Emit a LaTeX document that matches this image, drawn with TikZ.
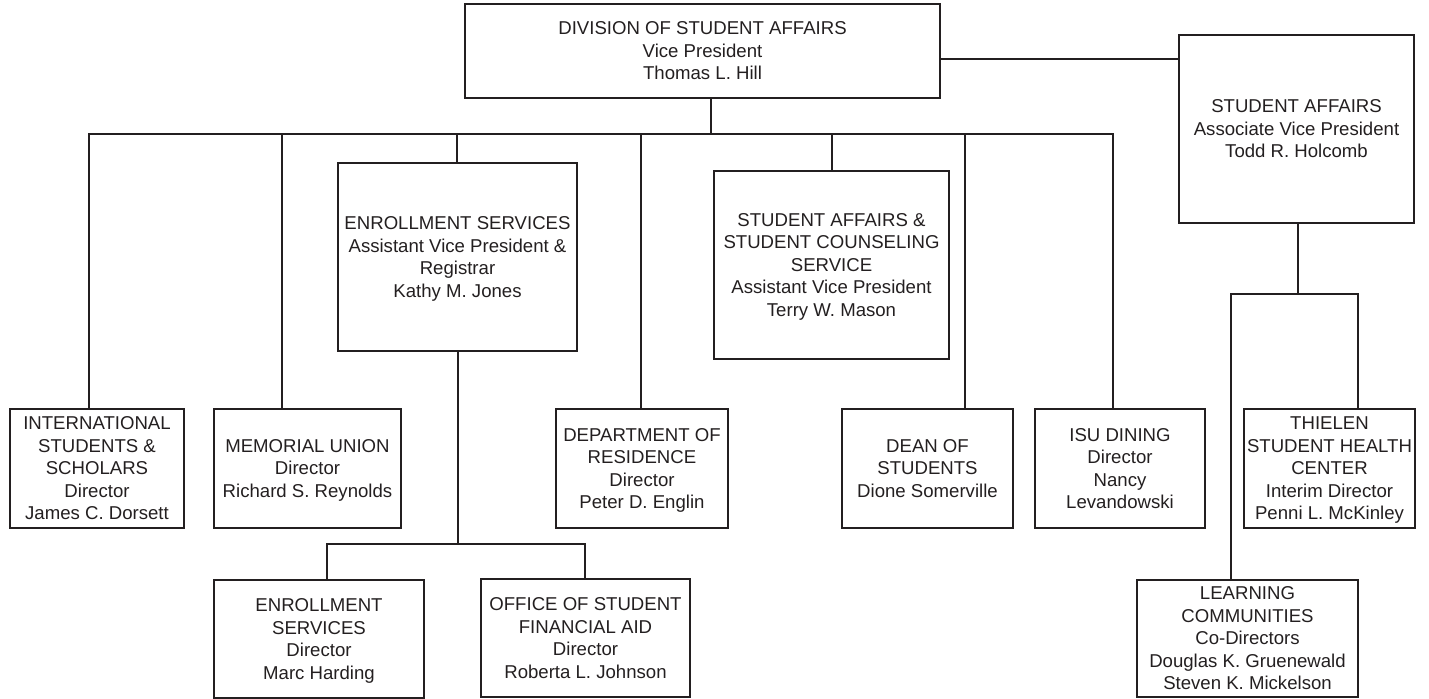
\documentclass[tikz,border=0pt]{standalone}
\usepackage{fontspec}
\setmainfont{Liberation Sans}
\definecolor{ink}{RGB}{35,31,32}
\begin{document}
\begin{tikzpicture}[x=0.5pt,y=-0.5pt,
  orgbox/.style={draw=ink, text=ink, line width=1pt, align=center, inner sep=0pt,
    text depth=0pt, font=\fontsize{9.3}{11.25}\selectfont},
  link/.style={draw=ink, line width=1pt}]
\useasboundingbox (0,0) rectangle (1429,699);
% boxes
\node[orgbox, minimum width=237.5pt, minimum height=47pt] (top) at (702.5,51) {DIVISION OF STUDENT AFFAIRS\\Vice President\\Thomas L. Hill};
\node[orgbox, minimum width=117.5pt, minimum height=94pt] (avp) at (1296.5,129) {STUDENT AFFAIRS\\Associate Vice President\\Todd R. Holcomb};
\node[orgbox, minimum width=119.5pt, minimum height=94pt] (es) at (457.5,257) {ENROLLMENT SERVICES\\Assistant Vice President \&\\Registrar\\Kathy M. Jones};
\node[orgbox, minimum width=117.5pt, minimum height=94pt] (sas) at (831.5,265) {STUDENT AFFAIRS \&\\STUDENT COUNSELING\\SERVICE\\Assistant Vice President\\Terry W. Mason};
\node[orgbox, minimum width=87pt, minimum height=59.5pt] (intl) at (97,468.5) {INTERNATIONAL\\STUDENTS \&\\SCHOLARS\\Director\\James C. Dorsett};
\node[orgbox, minimum width=93.5pt, minimum height=59.5pt] (mu) at (307.5,468.5) {MEMORIAL UNION\\Director\\Richard S. Reynolds};
\node[orgbox, minimum width=86pt, minimum height=59.5pt] (dr) at (642,468.5) {DEPARTMENT OF\\RESIDENCE\\Director\\Peter D. Englin};
\node[orgbox, minimum width=85.5pt, minimum height=59.5pt] (dean) at (927.5,468.5) {DEAN OF\\STUDENTS\\Dione Somerville};
\node[orgbox, minimum width=85pt, minimum height=59.5pt] (isu) at (1120,468.5) {ISU DINING\\Director\\Nancy\\Levandowski};
\node[orgbox, minimum width=85.5pt, minimum height=59.5pt] (thielen) at (1329.5,468.5) {THIELEN\\STUDENT HEALTH\\CENTER\\Interim Director\\Penni L. McKinley};
\node[orgbox, minimum width=105pt, minimum height=59pt] (esd) at (319,639) {ENROLLMENT\\SERVICES\\Director\\Marc Harding};
\node[orgbox, minimum width=104.5pt, minimum height=59pt] (osfa) at (585.5,638) {OFFICE OF STUDENT\\FINANCIAL AID\\Director\\Roberta L. Johnson};
\node[orgbox, minimum width=110.5pt, minimum height=58.5pt] (lc) at (1247.5,638.5) {LEARNING\\COMMUNITIES\\Co-Directors\\Douglas K. Gruenewald\\Steven K. Mickelson};
% coordinates
\coordinate (h1) at (0,59);
\coordinate (v0) at (711,134);
\coordinate (b1) at (89,134);
\coordinate (b2) at (282,134);
\coordinate (b3) at (457,134);
\coordinate (b4) at (641,134);
\coordinate (b5) at (832,134);
\coordinate (b6) at (965,134);
\coordinate (b7) at (1113,134);
\coordinate (s0) at (458,544);
\coordinate (s1) at (327,544);
\coordinate (s2) at (585,544);
\coordinate (r0) at (1298,294);
\coordinate (r1) at (1231,294);
\coordinate (r2) at (1358,294);
% connectors
\draw[link] (top.east |- h1) -- (avp.west |- h1);
\draw[link] (top.south -| v0) -- (v0);
\draw[link, line cap=rect] (b1) -- (b7);
\draw[link] (b1) -- (intl.north -| b1);
\draw[link] (b2) -- (mu.north -| b2);
\draw[link] (b3) -- (es.north -| b3);
\draw[link] (b4) -- (dr.north -| b4);
\draw[link] (b5) -- (sas.north -| b5);
\draw[link] (b6) -- (dean.north -| b6);
\draw[link] (b7) -- (isu.north -| b7);
\draw[link] (es.south -| s0) -- (s0);
\draw[link, line cap=rect] (s1) -- (s2);
\draw[link] (s1) -- (esd.north -| s1);
\draw[link] (s2) -- (osfa.north -| s2);
\draw[link] (avp.south -| r0) -- (r0);
\draw[link, line cap=rect] (r1) -- (r2);
\draw[link] (r1) -- (lc.north -| r1);
\draw[link] (r2) -- (thielen.north -| r2);
\end{tikzpicture}
\end{document}
